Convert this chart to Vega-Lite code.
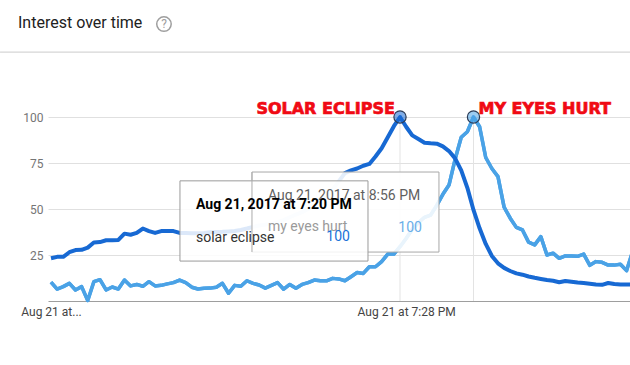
{
  "$schema": "https://vega.github.io/schema/vega-lite/v6.json",
  "width": 582,
  "height": 184,
  "autosize": {"type": "none"},
  "padding": {"left": 48, "top": 117, "right": 0, "bottom": 64},
  "background": "white",
  "config": {"font": "Roboto", "view": {"stroke": null}},
  "data": {"values": [
    {"t": "2017-08-21T11:44", "solar": 23.2, "eyes": 10.3},
    {"t": "2017-08-21T11:52", "solar": 24, "eyes": 6.5},
    {"t": "2017-08-21T12:00", "solar": 24, "eyes": 7.8},
    {"t": "2017-08-21T12:08", "solar": 26.5, "eyes": 9.6},
    {"t": "2017-08-21T12:16", "solar": 27.7, "eyes": 6},
    {"t": "2017-08-21T12:24", "solar": 27.8, "eyes": 7.8},
    {"t": "2017-08-21T12:32", "solar": 29, "eyes": 0.3},
    {"t": "2017-08-21T12:40", "solar": 31.8, "eyes": 10.5},
    {"t": "2017-08-21T12:48", "solar": 32, "eyes": 11.6},
    {"t": "2017-08-21T12:56", "solar": 33, "eyes": 6},
    {"t": "2017-08-21T13:04", "solar": 33, "eyes": 7.6},
    {"t": "2017-08-21T13:12", "solar": 33.2, "eyes": 6.5},
    {"t": "2017-08-21T13:20", "solar": 36.6, "eyes": 11.4},
    {"t": "2017-08-21T13:28", "solar": 36, "eyes": 8.2},
    {"t": "2017-08-21T13:36", "solar": 37, "eyes": 9},
    {"t": "2017-08-21T13:44", "solar": 39.4, "eyes": 8},
    {"t": "2017-08-21T13:52", "solar": 38, "eyes": 10.5},
    {"t": "2017-08-21T14:00", "solar": 37, "eyes": 8.2},
    {"t": "2017-08-21T14:08", "solar": 38, "eyes": 8.5},
    {"t": "2017-08-21T14:16", "solar": 38, "eyes": 9.3},
    {"t": "2017-08-21T14:24", "solar": 38, "eyes": 10},
    {"t": "2017-08-21T14:32", "solar": 37, "eyes": 11.4},
    {"t": "2017-08-21T14:40", "solar": 37, "eyes": 10},
    {"t": "2017-08-21T14:48", "solar": 36.8, "eyes": 7.5},
    {"t": "2017-08-21T14:56", "solar": 36.8, "eyes": 6.5},
    {"t": "2017-08-21T15:04", "solar": 37, "eyes": 6.9},
    {"t": "2017-08-21T15:12", "solar": 37.4, "eyes": 7},
    {"t": "2017-08-21T15:20", "solar": 37.5, "eyes": 7.5},
    {"t": "2017-08-21T15:28", "solar": 37.6, "eyes": 9.6},
    {"t": "2017-08-21T15:36", "solar": 37.8, "eyes": 4.2},
    {"t": "2017-08-21T15:44", "solar": 38, "eyes": 8.5},
    {"t": "2017-08-21T15:52", "solar": 38.6, "eyes": 8},
    {"t": "2017-08-21T16:00", "solar": 39.4, "eyes": 11},
    {"t": "2017-08-21T16:08", "solar": 40.3, "eyes": 9.6},
    {"t": "2017-08-21T16:16", "solar": 41, "eyes": 8.7},
    {"t": "2017-08-21T16:24", "solar": 41.5, "eyes": 7},
    {"t": "2017-08-21T16:32", "solar": 42, "eyes": 8.5},
    {"t": "2017-08-21T16:40", "solar": 42.8, "eyes": 10},
    {"t": "2017-08-21T16:48", "solar": 44, "eyes": 6.4},
    {"t": "2017-08-21T16:56", "solar": 45.5, "eyes": 9},
    {"t": "2017-08-21T17:04", "solar": 47, "eyes": 6.9},
    {"t": "2017-08-21T17:12", "solar": 48.3, "eyes": 9},
    {"t": "2017-08-21T17:20", "solar": 50, "eyes": 10},
    {"t": "2017-08-21T17:28", "solar": 52, "eyes": 11.4},
    {"t": "2017-08-21T17:36", "solar": 54.2, "eyes": 11},
    {"t": "2017-08-21T17:44", "solar": 56.7, "eyes": 11},
    {"t": "2017-08-21T17:52", "solar": 60.5, "eyes": 12.3},
    {"t": "2017-08-21T18:00", "solar": 65, "eyes": 12},
    {"t": "2017-08-21T18:08", "solar": 69.5, "eyes": 11},
    {"t": "2017-08-21T18:16", "solar": 71, "eyes": 13.2},
    {"t": "2017-08-21T18:24", "solar": 72, "eyes": 15.5},
    {"t": "2017-08-21T18:32", "solar": 73.5, "eyes": 15},
    {"t": "2017-08-21T18:40", "solar": 74.5, "eyes": 18.6},
    {"t": "2017-08-21T18:48", "solar": 78.5, "eyes": 18.6},
    {"t": "2017-08-21T18:56", "solar": 83, "eyes": 21.4},
    {"t": "2017-08-21T19:04", "solar": 89, "eyes": 25.5},
    {"t": "2017-08-21T19:12", "solar": 95, "eyes": 25.5},
    {"t": "2017-08-21T19:20", "solar": 100, "eyes": 29.5},
    {"t": "2017-08-21T19:28", "solar": 94.7, "eyes": 34},
    {"t": "2017-08-21T19:36", "solar": 90, "eyes": 39},
    {"t": "2017-08-21T19:44", "solar": 88, "eyes": 42.5},
    {"t": "2017-08-21T19:52", "solar": 86, "eyes": 45.5},
    {"t": "2017-08-21T20:00", "solar": 85.7, "eyes": 46.7},
    {"t": "2017-08-21T20:08", "solar": 85.5, "eyes": 52},
    {"t": "2017-08-21T20:16", "solar": 84, "eyes": 58},
    {"t": "2017-08-21T20:24", "solar": 81.5, "eyes": 63},
    {"t": "2017-08-21T20:32", "solar": 77.5, "eyes": 77},
    {"t": "2017-08-21T20:40", "solar": 71, "eyes": 89},
    {"t": "2017-08-21T20:48", "solar": 61.5, "eyes": 92},
    {"t": "2017-08-21T20:56", "solar": 49.5, "eyes": 100},
    {"t": "2017-08-21T21:04", "solar": 39.5, "eyes": 94.7},
    {"t": "2017-08-21T21:12", "solar": 31, "eyes": 78},
    {"t": "2017-08-21T21:20", "solar": 24.5, "eyes": 72},
    {"t": "2017-08-21T21:28", "solar": 20.5, "eyes": 67.6},
    {"t": "2017-08-21T21:36", "solar": 18, "eyes": 51},
    {"t": "2017-08-21T21:44", "solar": 16.3, "eyes": 45},
    {"t": "2017-08-21T21:52", "solar": 15, "eyes": 40},
    {"t": "2017-08-21T22:00", "solar": 14.3, "eyes": 38.6},
    {"t": "2017-08-21T22:08", "solar": 13.3, "eyes": 32},
    {"t": "2017-08-21T22:16", "solar": 12.6, "eyes": 30.5},
    {"t": "2017-08-21T22:24", "solar": 12, "eyes": 35},
    {"t": "2017-08-21T22:32", "solar": 11.4, "eyes": 25},
    {"t": "2017-08-21T22:40", "solar": 11, "eyes": 26},
    {"t": "2017-08-21T22:48", "solar": 10.2, "eyes": 23.2},
    {"t": "2017-08-21T22:56", "solar": 10.9, "eyes": 24.5},
    {"t": "2017-08-21T23:04", "solar": 10.5, "eyes": 24.5},
    {"t": "2017-08-21T23:12", "solar": 10, "eyes": 24.3},
    {"t": "2017-08-21T23:20", "solar": 9.8, "eyes": 25.5},
    {"t": "2017-08-21T23:28", "solar": 9.4, "eyes": 19.4},
    {"t": "2017-08-21T23:36", "solar": 9, "eyes": 21.4},
    {"t": "2017-08-21T23:44", "solar": 8.8, "eyes": 21},
    {"t": "2017-08-21T23:52", "solar": 9.8, "eyes": 19.5},
    {"t": "2017-08-22T00:00", "solar": 9.2, "eyes": 19.5},
    {"t": "2017-08-22T00:08", "solar": 9, "eyes": 20},
    {"t": "2017-08-22T00:16", "solar": 9, "eyes": 16.5},
    {"t": "2017-08-22T00:24", "solar": 9, "eyes": 27}
  ]},
  "layer": [
    {
      "mark": {"type": "line", "color": "#4aa2e6", "strokeWidth": 3.5, "strokeJoin": "round"},
      "encoding": {
        "x": {"field": "t", "type": "temporal",
          "scale": {"domain": [{"year": 2017, "month": 8, "date": 21, "hours": 11, "minutes": 40, "seconds": 5}, {"year": 2017, "month": 8, "date": 22, "hours": 0, "minutes": 20, "seconds": 30}]},
          "axis": {"title": null, "grid": false, "ticks": false, "domainColor": "#9e9e9e", "domainWidth": 1.2, "labelFontSize": 12, "labelColor": "#444", "labelPadding": 5, "labelFlush": false, "labelOverlap": false,
            "values": [{"year": 2017, "month": 8, "date": 21, "hours": 11, "minutes": 44}, {"year": 2017, "month": 8, "date": 21, "hours": 19, "minutes": 28}],
            "labelExpr": "datum.value < datetime(2017, 7, 21, 12, 0) ? 'Aug 21 at...' : timeFormat(datum.value, '%b %-d at %-I:%M %p')"}},
        "y": {"field": "eyes", "type": "quantitative",
          "scale": {"domain": [0, 100]},
          "axis": {"title": null, "values": [25, 50, 75, 100], "domain": false, "ticks": false, "gridColor": "#e0e0e0", "labelFontSize": 12, "labelColor": "#757575", "labelPadding": 5}}
      }
    },
    {
      "data": {"values": [{}]},
      "mark": {"type": "rule", "color": "#e3e3e3", "strokeWidth": 1},
      "encoding": {
        "x": {"datum": {"year": 2017, "month": 8, "date": 21, "hours": 19, "minutes": 20}, "type": "temporal"},
        "y": {"datum": 0}, "y2": {"datum": 100}
      }
    },
    {
      "data": {"values": [{}]},
      "mark": {"type": "rule", "color": "#e3e3e3", "strokeWidth": 1},
      "encoding": {
        "x": {"datum": {"year": 2017, "month": 8, "date": 21, "hours": 20, "minutes": 56}, "type": "temporal"},
        "y": {"datum": 0}, "y2": {"datum": 100}
      }
    },
    {
      "mark": {"type": "line", "color": "#4aa2e6", "strokeWidth": 3.5, "strokeJoin": "round"},
      "encoding": {
        "x": {"field": "t", "type": "temporal"},
        "y": {"field": "eyes", "type": "quantitative"}
      }
    },
    {
      "mark": {"type": "line", "color": "#1769d3", "strokeWidth": 4, "strokeJoin": "round"},
      "encoding": {
        "x": {"field": "t", "type": "temporal"},
        "y": {"field": "solar", "type": "quantitative"}
      }
    },
    {
      "data": {"values": [{}]},
      "mark": {"type": "point", "shape": "circle", "filled": true, "size": 150, "fill": "#1769d3", "fillOpacity": 0.55, "stroke": "#2a3b57", "strokeWidth": 1.2, "opacity": 1},
      "encoding": {
        "x": {"datum": {"year": 2017, "month": 8, "date": 21, "hours": 19, "minutes": 20}, "type": "temporal"},
        "y": {"datum": 100}
      }
    },
    {
      "data": {"values": [{}]},
      "mark": {"type": "point", "shape": "circle", "filled": true, "size": 150, "fill": "#4aa2e6", "fillOpacity": 0.55, "stroke": "#2a3b57", "strokeWidth": 1.2, "opacity": 1},
      "encoding": {
        "x": {"datum": {"year": 2017, "month": 8, "date": 21, "hours": 20, "minutes": 56}, "type": "temporal"},
        "y": {"datum": 100}
      }
    },
    {
      "data": {"values": [{}]},
      "mark": {"type": "rect", "fill": "white", "fillOpacity": 0.88, "stroke": "#a8a8a8", "strokeWidth": 1},
      "encoding": {
        "x": {"datum": {"year": 2017, "month": 8, "date": 21, "hours": 16, "minutes": 6, "seconds": 36}, "type": "temporal"},
        "x2": {"datum": {"year": 2017, "month": 8, "date": 21, "hours": 20, "minutes": 10, "seconds": 54}},
        "y": {"datum": 70.1}, "y2": {"datum": 26.6}
      }
    },
    {
      "data": {"values": [{}]},
      "mark": {"type": "rect", "fill": "white", "fillOpacity": 0.85, "stroke": "#9a9a9a", "strokeWidth": 1},
      "encoding": {
        "x": {"datum": {"year": 2017, "month": 8, "date": 21, "hours": 14, "minutes": 32, "seconds": 30}, "type": "temporal"},
        "x2": {"datum": {"year": 2017, "month": 8, "date": 21, "hours": 18, "minutes": 38, "seconds": 10}},
        "y": {"datum": 65.3}, "y2": {"datum": 21.7}
      }
    },
    {
      "data": {"values": [{}]},
      "mark": {"type": "rule", "color": "#b0b0b0", "strokeWidth": 1},
      "encoding": {
        "x": {"datum": {"year": 2017, "month": 8, "date": 21, "hours": 16, "minutes": 6, "seconds": 36}, "type": "temporal"},
        "y": {"datum": 70.1}, "y2": {"datum": 26.6}
      }
    },
    {
      "data": {"values": [{}]},
      "mark": {"type": "text", "text": "Aug 21, 2017 at 8:56 PM", "align": "left", "baseline": "middle", "fontSize": 14, "color": "#5f5f5f"},
      "encoding": {
        "x": {"datum": {"year": 2017, "month": 8, "date": 21, "hours": 16, "minutes": 27, "seconds": 30}, "type": "temporal"},
        "y": {"datum": 57.3}
      }
    },
    {
      "data": {"values": [{}]},
      "mark": {"type": "text", "text": "my eyes hurt", "align": "left", "baseline": "middle", "fontSize": 14, "color": "#9a9a9a"},
      "encoding": {
        "x": {"datum": {"year": 2017, "month": 8, "date": 21, "hours": 16, "minutes": 27, "seconds": 30}, "type": "temporal"},
        "y": {"datum": 40.2}
      }
    },
    {
      "data": {"values": [{}]},
      "mark": {"type": "text", "text": "100", "align": "right", "baseline": "middle", "fontSize": 14, "color": "#6aaee8"},
      "encoding": {
        "x": {"datum": {"year": 2017, "month": 8, "date": 21, "hours": 19, "minutes": 48, "seconds": 42}, "type": "temporal"},
        "y": {"datum": 39.5}
      }
    },
    {
      "data": {"values": [{}]},
      "mark": {"type": "text", "text": "Aug 21, 2017 at 7:20 PM", "align": "left", "baseline": "middle", "fontSize": 14, "fontWeight": "bold", "color": "#000000"},
      "encoding": {
        "x": {"datum": {"year": 2017, "month": 8, "date": 21, "hours": 14, "minutes": 53, "seconds": 24}, "type": "temporal"},
        "y": {"datum": 52.2}
      }
    },
    {
      "data": {"values": [{}]},
      "mark": {"type": "text", "text": "solar eclipse", "align": "left", "baseline": "middle", "fontSize": 14, "color": "#333333"},
      "encoding": {
        "x": {"datum": {"year": 2017, "month": 8, "date": 21, "hours": 14, "minutes": 53, "seconds": 24}, "type": "temporal"},
        "y": {"datum": 34.3}
      }
    },
    {
      "data": {"values": [{}]},
      "mark": {"type": "text", "text": "100", "align": "right", "baseline": "middle", "fontSize": 14, "color": "#1a73d8"},
      "encoding": {
        "x": {"datum": {"year": 2017, "month": 8, "date": 21, "hours": 18, "minutes": 14, "seconds": 36}, "type": "temporal"},
        "y": {"datum": 34.8}
      }
    },
    {
      "data": {"values": [{}]},
      "mark": {"type": "text", "text": "SOLAR ECLIPSE", "align": "right", "baseline": "alphabetic", "dx": -5, "dy": -3.5, "fontSize": 16, "fontWeight": "bold", "font": "DejaVu Sans", "color": "#f00a14", "stroke": "#f00a14", "strokeWidth": 0.7},
      "encoding": {
        "x": {"datum": {"year": 2017, "month": 8, "date": 21, "hours": 19, "minutes": 20}, "type": "temporal"},
        "y": {"datum": 100}
      }
    },
    {
      "data": {"values": [{}]},
      "mark": {"type": "text", "text": "MY EYES HURT", "align": "left", "baseline": "alphabetic", "dx": 5, "dy": -3.5, "fontSize": 16, "fontWeight": "bold", "font": "DejaVu Sans", "color": "#f00a14", "stroke": "#f00a14", "strokeWidth": 0.7},
      "encoding": {
        "x": {"datum": {"year": 2017, "month": 8, "date": 21, "hours": 20, "minutes": 56}, "type": "temporal"},
        "y": {"datum": 100}
      }
    },
    {
      "data": {"values": [{}]},
      "mark": {"type": "rule", "color": "#d6d6d6", "strokeWidth": 1.2},
      "encoding": {
        "x": {"datum": {"year": 2017, "month": 8, "date": 21, "hours": 10, "minutes": 37, "seconds": 24}, "type": "temporal"},
        "x2": {"datum": {"year": 2017, "month": 8, "date": 22, "hours": 0, "minutes": 25}},
        "y": {"datum": 135.3}
      }
    },
    {
      "data": {"values": [{}]},
      "mark": {"type": "text", "text": "Interest over time", "align": "left", "baseline": "middle", "fontSize": 16, "color": "#212121"},
      "encoding": {
        "x": {"datum": {"year": 2017, "month": 8, "date": 21, "hours": 11, "minutes": 0, "seconds": 54}, "type": "temporal"},
        "y": {"datum": 151}
      }
    },
    {
      "data": {"values": [{}]},
      "mark": {"type": "point", "shape": "circle", "filled": false, "size": 210, "stroke": "#9e9e9e", "strokeWidth": 1.5, "opacity": 1},
      "encoding": {
        "x": {"datum": {"year": 2017, "month": 8, "date": 21, "hours": 14, "minutes": 11, "seconds": 36}, "type": "temporal"},
        "y": {"datum": 150.5}
      }
    },
    {
      "data": {"values": [{}]},
      "mark": {"type": "text", "text": "?", "align": "center", "baseline": "middle", "fontSize": 12, "color": "#9e9e9e"},
      "encoding": {
        "x": {"datum": {"year": 2017, "month": 8, "date": 21, "hours": 14, "minutes": 11, "seconds": 36}, "type": "temporal"},
        "y": {"datum": 150.5}
      }
    }
  ]
}
